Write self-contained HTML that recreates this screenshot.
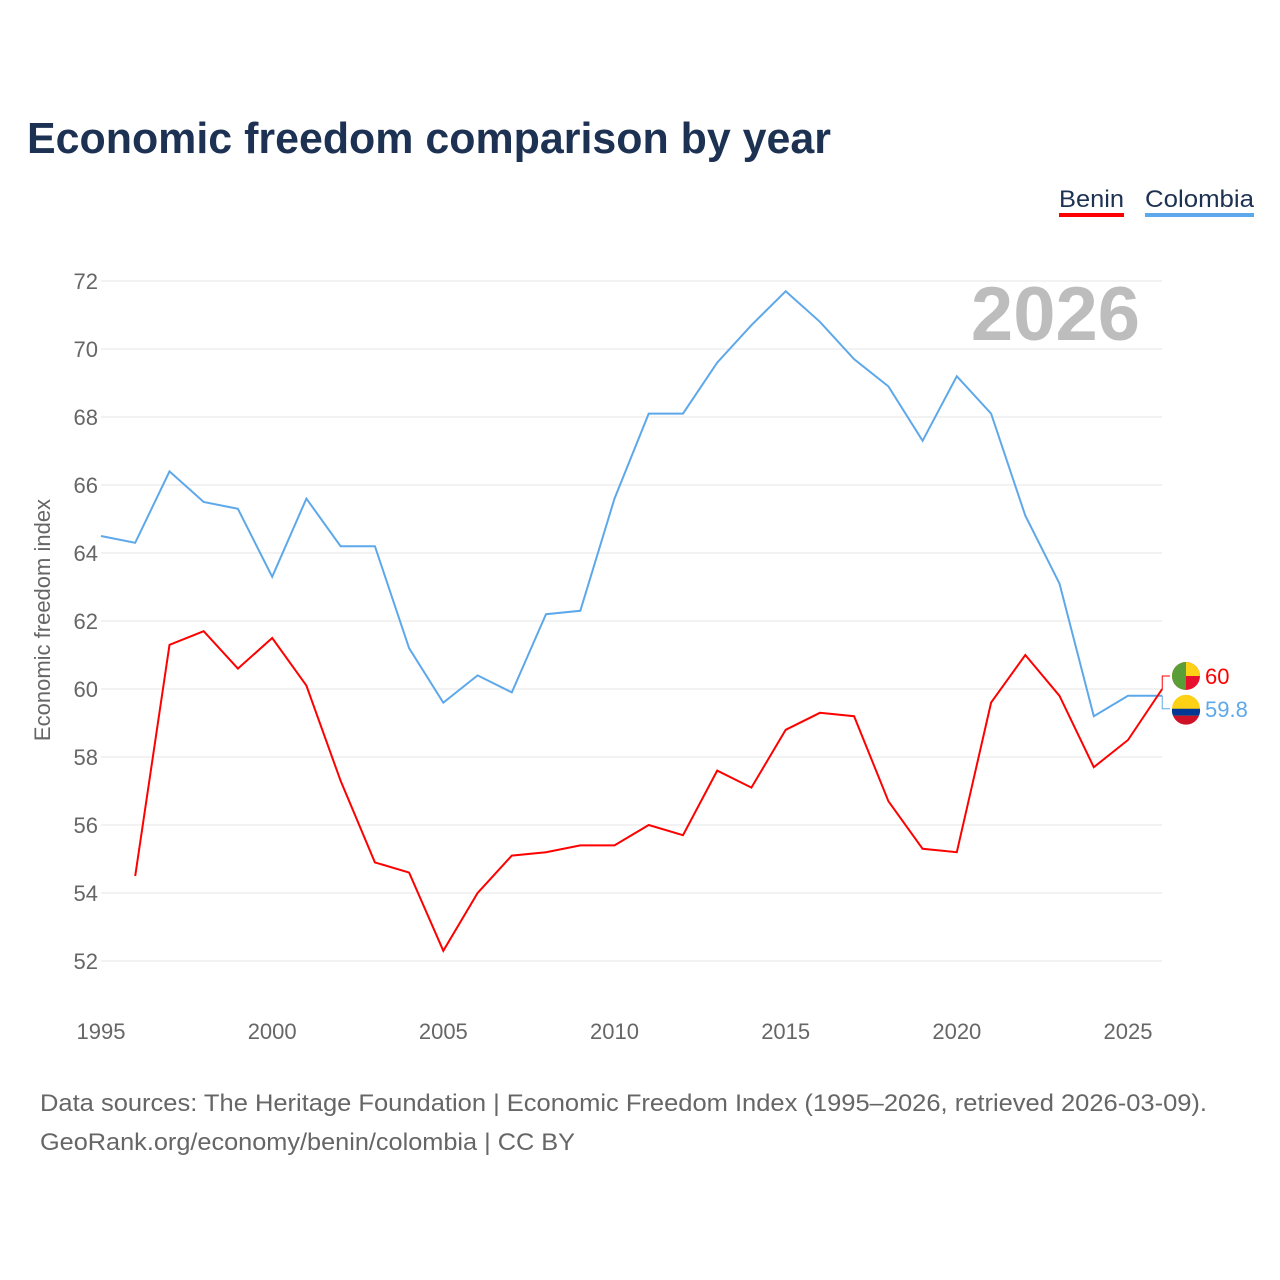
<!DOCTYPE html>
<html><head><meta charset="utf-8">
<style>
body{margin:0;background:#fff;font-family:"Liberation Sans",sans-serif;}
#wrap{position:relative;width:1280px;height:1280px;overflow:hidden;}
</style></head>
<body>
<div id="wrap">
<svg id="chart" width="1280" height="1280">
<text x="27" y="153" font-size="44" font-weight="bold" fill="#1d3153" textLength="804" lengthAdjust="spacingAndGlyphs">Economic freedom comparison by year</text>
<g><text x="1059" y="207" font-size="24" fill="#1d3153" textLength="65" lengthAdjust="spacingAndGlyphs">Benin</text><rect x="1059" y="213" width="65" height="4" fill="#f00"/></g>
<g><text x="1145" y="207" font-size="24" fill="#1d3153" textLength="109" lengthAdjust="spacingAndGlyphs">Colombia</text><rect x="1145" y="213" width="109" height="4" fill="#5da8ea"/></g>
<text x="1140" y="340" text-anchor="end" font-size="76" font-weight="bold" fill="#bdbdbd">2026</text>
<text transform="translate(50,620) rotate(-90)" text-anchor="middle" font-size="22" fill="#666">Economic freedom index</text>
<g id="grid"></g><g id="series"></g>
<text x="40" y="1111" font-size="24" fill="#666" textLength="1167" lengthAdjust="spacingAndGlyphs">Data sources: The Heritage Foundation | Economic Freedom Index (1995–2026, retrieved 2026-03-09).</text>
<text x="40" y="1150" font-size="24" fill="#666" textLength="535" lengthAdjust="spacingAndGlyphs">GeoRank.org/economy/benin/colombia | CC BY</text>
</svg>
</div>
<script>
const years=[1995,1996,1997,1998,1999,2000,2001,2002,2003,2004,2005,2006,2007,2008,2009,2010,2011,2012,2013,2014,2015,2016,2017,2018,2019,2020,2021,2022,2023,2024,2025,2026];
const colombia=[64.5,64.3,66.4,65.5,65.3,63.3,65.6,64.2,64.2,61.2,59.6,60.4,59.9,62.2,62.3,65.6,68.1,68.1,69.6,70.7,71.7,70.8,69.7,68.9,67.3,69.2,68.1,65.1,63.1,59.2,59.8,59.8];
const benin=[null,54.5,61.3,61.7,60.6,61.5,60.1,57.3,54.9,54.6,52.3,54.0,55.1,55.2,55.4,55.4,56.0,55.7,57.6,57.1,58.8,59.3,59.2,56.7,55.3,55.2,59.6,61.0,59.8,57.7,58.5,60.0];
const yTicks=[52,54,56,58,60,62,64,66,68,70,72];
const xTicks=[1995,2000,2005,2010,2015,2020,2025];
const NS="http://www.w3.org/2000/svg";
const xs=y=>101+(y-1995)*(1128-101)/30;
const ys=v=>281+(72-v)*34;
function mk(t,a,p){const e=document.createElementNS(NS,t);for(const k in a)e.setAttribute(k,a[k]);p.appendChild(e);return e;}
const grid=document.getElementById('grid'),ser=document.getElementById('series');
yTicks.forEach(v=>{
 const l=mk('line',{x1:101,x2:1162,y1:ys(v),y2:ys(v),stroke:'#e6e6e6','stroke-width':1},grid);
 
 
 const t=mk('text',{x:98,y:ys(v)+8,'text-anchor':'end','font-size':22,fill:'#666'},grid);t.textContent=v;
 
 
});
xTicks.forEach(v=>{
 const t=mk('text',{x:xs(v),y:1039,'text-anchor':'middle','font-size':22,fill:'#666'},grid);t.textContent=v;
 
 
});
function line(vals,col,name){
 let d='';vals.forEach((v,i)=>{if(v==null)return;d+=(d?'L':'M')+xs(years[i]).toFixed(1)+','+ys(v).toFixed(1);});
 const p=mk('path',{d:d,fill:'none',stroke:col,'stroke-width':2},ser);
 
 
}
line(colombia,'#5da8ea','colombia-line');
line(benin,'#f00','benin-line');
const lb=benin[benin.length-1],lc=colombia[colombia.length-1];
const ex=xs(years[years.length-1]);
mk('path',{d:`M${ex},${ys(lb)}L${ex},${ys(lb)-13}L1170,${ys(lb)-13}`,fill:'none',stroke:'#f00','stroke-width':1},ser);
mk('path',{d:`M${ex},${ys(lc)}L${ex},${ys(lc)+13}L1170,${ys(lc)+13}`,fill:'none',stroke:'#5da8ea','stroke-width':1},ser);
const fb=mk('g',{},ser);
const by=ys(lb)-13;
mk('circle',{cx:1186,cy:by,r:14,fill:'#e8112d'},fb);
mk('path',{d:`M1186,${by-14}A14,14 0 0 1 1200,${by}L1172,${by}A14,14 0 0 1 1186,${by-14}Z`,fill:'#fcd116'},fb);
mk('path',{d:`M1186,${by-14}A14,14 0 0 0 1186,${by+14}Z`,fill:'#5a9e37'},fb);
const fc=mk('g',{},ser);
const cy=ys(lc)+13;
mk('circle',{cx:1186,cy:cy,r:14,fill:'#fcd116'},fc);
mk('path',{d:`M1172,${cy}L1200,${cy}A14,14 0 0 1 1199,${cy+7}L1173,${cy+7}A14,14 0 0 1 1172,${cy}Z`,fill:'#003893'},fc);
mk('path',{d:`M1173,${cy+7}L1199,${cy+7}A14,14 0 0 1 1173,${cy+7}Z`,fill:'#ce1126'},fc);
const t1=mk('text',{x:1205,y:by+8,'font-size':22,fill:'#f00'},ser);t1.textContent=lb;


const t2=mk('text',{x:1205,y:cy+8,'font-size':22,fill:'#5da8ea'},ser);t2.textContent=lc;


</script>
</body></html>
